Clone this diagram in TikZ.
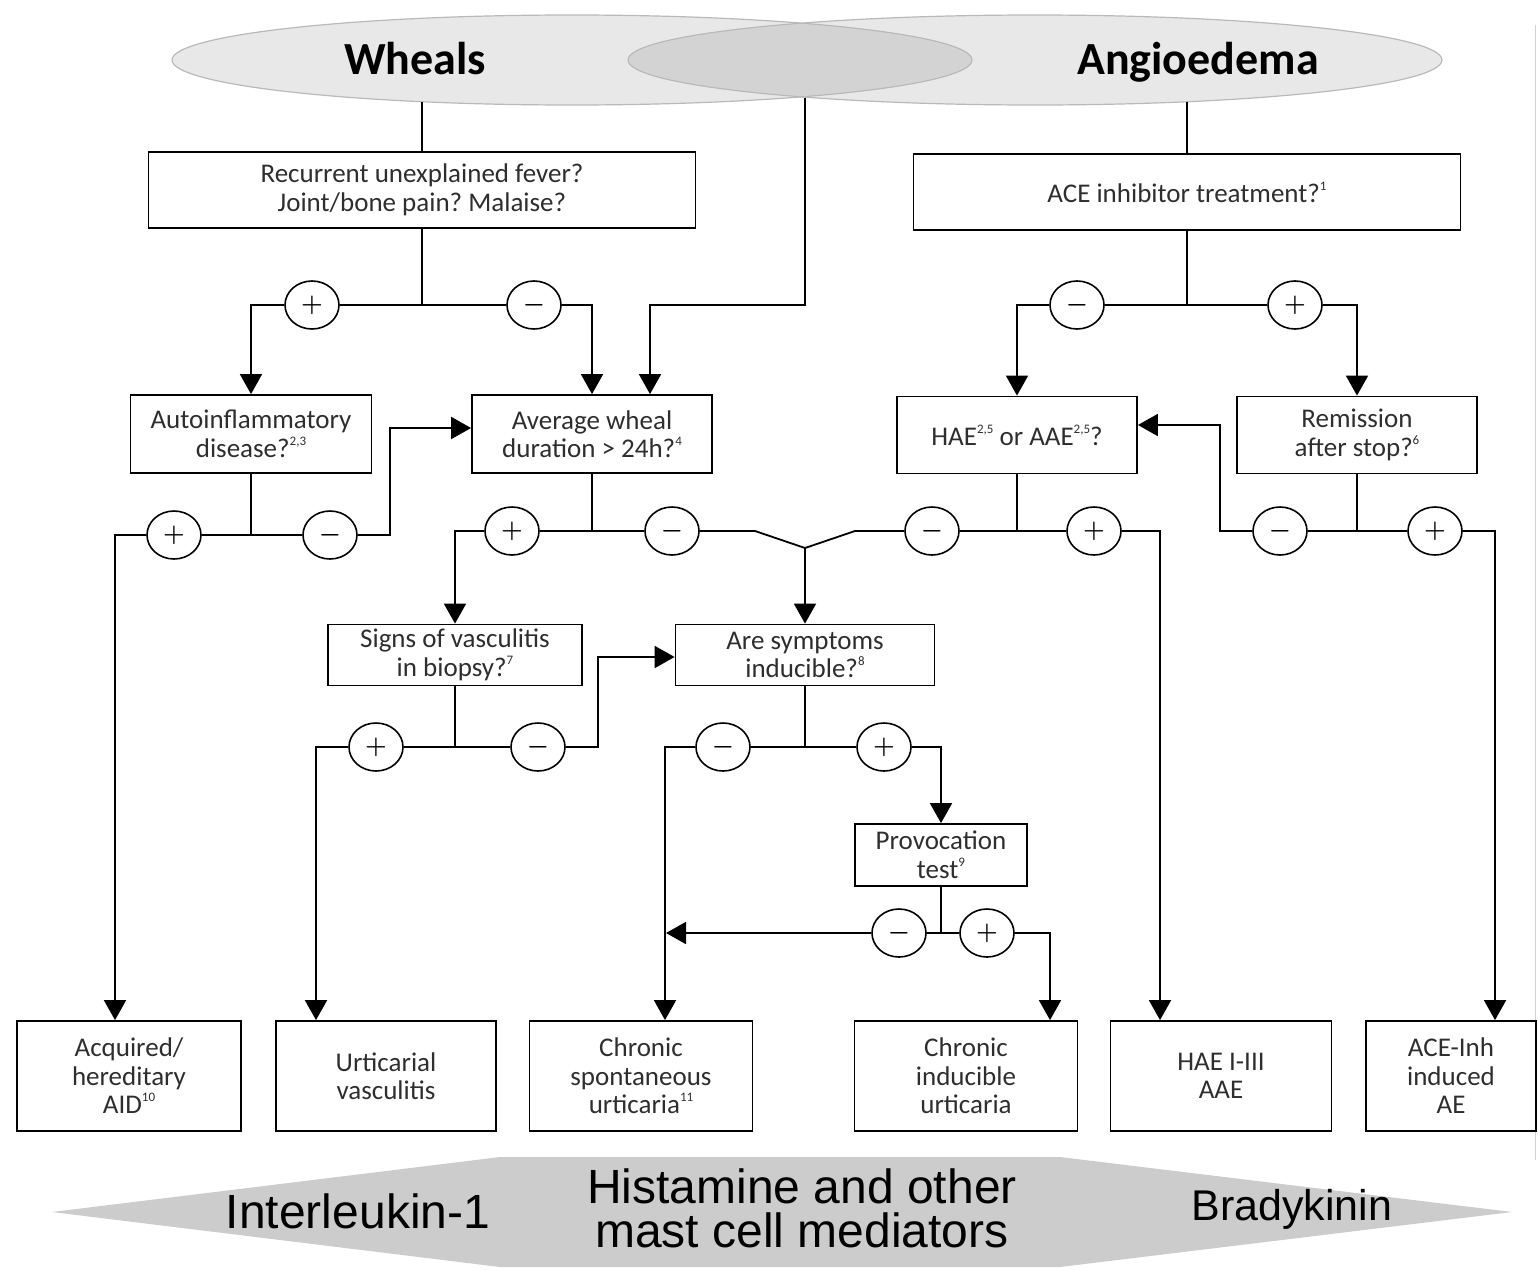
\documentclass[tikz,border=0pt]{standalone}
\usepackage{fontspec}
\setmainfont{Carlito}
\newfontfamily\arialf{Liberation Sans}
\usetikzlibrary{arrows.meta,shapes.geometric}
\newcommand\supx[1]{\raisebox{0.45em}{\fontsize{13}{13}\selectfont #1}}
\frenchspacing
\begin{document}
\begin{tikzpicture}[x=1pt,y=-1pt,
  box/.style={draw, line width=1.8pt, align=center, text=black!82, inner sep=0pt,
    font=\fontsize{27}{28.5}\selectfont},
  sgn/.style={draw, ellipse, line width=1.6pt, fill=white, minimum width=54pt,
    minimum height=48pt, inner sep=0pt, font=\fontsize{24}{24}\selectfont\boldmath},
  ln/.style={line width=1.8pt},
  arr/.style={ln, -{Triangle[width=22pt,length=20pt]}},
  ttl/.style={font=\fontsize{46}{46}\selectfont\bfseries, anchor=base},
  med/.style={font=\arialf\fontsize{48}{44}\selectfont, align=center, inner sep=0pt},
]
\useasboundingbox (0,0) rectangle (1538,1269);
% Venn ellipses
\fill[black, fill opacity=0.09] (572,60) ellipse [x radius=400pt, y radius=45pt];
\fill[black, fill opacity=0.09] (1035,60) ellipse [x radius=407pt, y radius=45pt];
\draw[gray!55, line width=1.2pt] (572,60) ellipse [x radius=400pt, y radius=45pt];
\draw[gray!55, line width=1.2pt] (1035,60) ellipse [x radius=407pt, y radius=45pt];
\node[ttl] (wh) at (415,74) {Wheals};
\node[ttl] (an) at (1198,74) {Angioedema};
% faint right border
\draw[gray!35, line width=1pt] (1535,25) -- (1535,1160);

% boxes
\node[box, minimum width=547pt, minimum height=76pt] (b1) at (422,190) {Recurrent unexplained fever?\\Joint/bone pain? Malaise?};
\node[box, minimum width=547pt, minimum height=76pt] (ace) at (1187,192) {ACE inhibitor treatment?\supx{1}};
\node[box, minimum width=241pt, minimum height=78pt] (ai) at (251,434) {Autoinflammatory\\disease?\supx{2,3}};
\node[box, minimum width=240pt, minimum height=78pt] (aw) at (592,434) {Average wheal\\duration > 24h?\supx{4}};
\node[box, minimum width=240pt, minimum height=77pt] (hae) at (1017,435) {HAE\supx{2,5} or AAE\supx{2,5}?};
\node[box, minimum width=240pt, minimum height=77pt] (rem) at (1357,435) {Remission\\after stop?\supx{6}};
\node[box, minimum width=254pt, minimum height=61pt] (sv) at (455,655) {Signs of vasculitis\\in biopsy?\supx{7}};
\node[box, minimum width=259pt, minimum height=61pt] (as) at (805,655) {Are symptoms\\inducible?\supx{8}};
\node[box, minimum width=172pt, minimum height=62pt] (pt) at (941,855) {Provocation\\test\supx{9}};
% outcome boxes
\node[box, minimum width=224pt, minimum height=110pt] (aid) at (129,1076) {Acquired/\\hereditary\\AID\supx{10}};
\node[box, minimum width=220pt, minimum height=110pt] (uv) at (386,1076) {Urticarial\\vasculitis};
\node[box, minimum width=223pt, minimum height=110pt] (csu) at (641,1076) {Chronic\\spontaneous\\urticaria\supx{11}};
\node[box, minimum width=223pt, minimum height=110pt] (ciu) at (966,1076) {Chronic\\inducible\\urticaria};
\node[box, minimum width=221pt, minimum height=110pt] (haei) at (1221,1076) {HAE I-III\\AAE};
\node[box, minimum width=170pt, minimum height=110pt] (acei) at (1451,1076) {ACE-Inh\\induced\\AE};

% sign nodes
\node[sgn] (s1p) at (312,305) {$+$};
\node[sgn] (s1m) at (534,305) {$-$};
\node[sgn] (s2m) at (1077,305) {$-$};
\node[sgn] (s2p) at (1295,305) {$+$};
\node[sgn] (s3p) at (174,535) {$+$};
\node[sgn] (s3m) at (330,535) {$-$};
\node[sgn] (s4p) at (512,531) {$+$};
\node[sgn] (s4m) at (672,531) {$-$};
\node[sgn] (s5m) at (932,531) {$-$};
\node[sgn] (s5p) at (1094,531) {$+$};
\node[sgn] (s6m) at (1280,531) {$-$};
\node[sgn] (s6p) at (1435,531) {$+$};
\node[sgn] (s7p) at (376,747) {$+$};
\node[sgn] (s7m) at (538,747) {$-$};
\node[sgn] (s8m) at (723,747) {$-$};
\node[sgn] (s8p) at (884,747) {$+$};
\node[sgn] (s9m) at (899,933) {$-$};
\node[sgn] (s9p) at (987,933) {$+$};

% junction coordinates
\coordinate (w0) at (422,102);
\coordinate (m0) at (805,98);
\coordinate (m1) at (805,305);
\coordinate (a0) at (1187,102);
\coordinate (j1) at (422,305);
\coordinate (j2) at (1187,305);
\coordinate (j3) at (251,535);
\coordinate (r1) at (390,428);
\coordinate (j4) at (592,531);
\coordinate (k1) at (755,531);
\coordinate (v) at (805,548);
\coordinate (k2) at (855,531);
\coordinate (j5) at (1017,531);
\coordinate (j6) at (1357,531);
\coordinate (r2) at (1220,425);
\coordinate (j7) at (455,747);
\coordinate (r3) at (598,657);
\coordinate (j8) at (805,747);
\coordinate (j9) at (941,933);
\coordinate (r4) at (666,933);

% connectors
\draw[ln] (w0) -- (b1.north);
\draw[ln] (a0) -- (ace.north);
\draw[arr] (m0) -- (m1) -| ([xshift=58pt]aw.north);
\draw[ln] (b1.south) -- (j1);
\draw[ln] (j1) -- (s1p.east);
\draw[ln] (j1) -- (s1m.west);
\draw[arr] (s1p.west) -| (ai.north);
\draw[arr] (s1m.east) -| (aw.north);
\draw[ln] (ace.south) -- (j2);
\draw[ln] (j2) -- (s2m.east);
\draw[ln] (j2) -- (s2p.west);
\draw[arr] (s2m.west) -| (hae.north);
\draw[arr] (s2p.east) -| (rem.north);
\draw[ln] (ai.south) -- (j3);
\draw[ln] (j3) -- (s3p.east);
\draw[ln] (j3) -- (s3m.west);
\draw[arr] (s3p.west) -| ([xshift=-14pt]aid.north);
\draw[arr] (s3m.east) -| (r1) -- (r1 -| aw.west);
\draw[ln] (aw.south) -- (j4);
\draw[ln] (j4) -- (s4p.east);
\draw[ln] (j4) -- (s4m.west);
\draw[arr] (s4p.west) -| (sv.north);
\draw[ln] (s4m.east) -- (k1) -- (v) -- (k2) -- (s5m.west);
\draw[arr] (v) -- (as.north);
\draw[ln] (hae.south) -- (j5);
\draw[ln] (j5) -- (s5m.east);
\draw[ln] (j5) -- (s5p.west);
\draw[arr] (s5p.east) -| ([xshift=-61pt]haei.north);
\draw[ln] (rem.south) -- (j6);
\draw[ln] (j6) -- (s6m.east);
\draw[ln] (j6) -- (s6p.west);
\draw[arr] (s6m.west) -| (r2) -- (r2 -| hae.east);
\draw[arr] (s6p.east) -| ([xshift=44pt]acei.north);
\draw[ln] (sv.south) -- (j7);
\draw[ln] (j7) -- (s7p.east);
\draw[ln] (j7) -- (s7m.west);
\draw[arr] (s7p.west) -| ([xshift=-70pt]uv.north);
\draw[arr] (s7m.east) -| (r3) -- (r3 -| as.west);
\draw[ln] (as.south) -- (j8);
\draw[ln] (j8) -- (s8m.east);
\draw[ln] (j8) -- (s8p.west);
\draw[arr] (s8m.west) -| ([xshift=24pt]csu.north);
\draw[arr] (s8p.east) -| (pt.north);
\draw[ln] (pt.south) -- (j9);
\draw[ln] (j9) -- (s9m.east);
\draw[ln] (j9) -- (s9p.west);
\draw[arr] (s9m.west) -- (r4);
\draw[arr] (s9p.east) -| ([xshift=84pt]ciu.north);

% mediator band
\fill[gray!40] (52,1212) -- (500,1157) -- (1060,1157) -- (1512,1212) -- (1060,1267) -- (500,1267) -- cycle;
\node[med] (il) at (358,1211) {Interleukin-1};
\node[med] (hi) at (802,1208) {Histamine and other\\mast cell mediators};
\node[med, font=\arialf\fontsize{43}{43}\selectfont] (bk) at (1292,1209) {Bradykinin};
\end{tikzpicture}
\end{document}
